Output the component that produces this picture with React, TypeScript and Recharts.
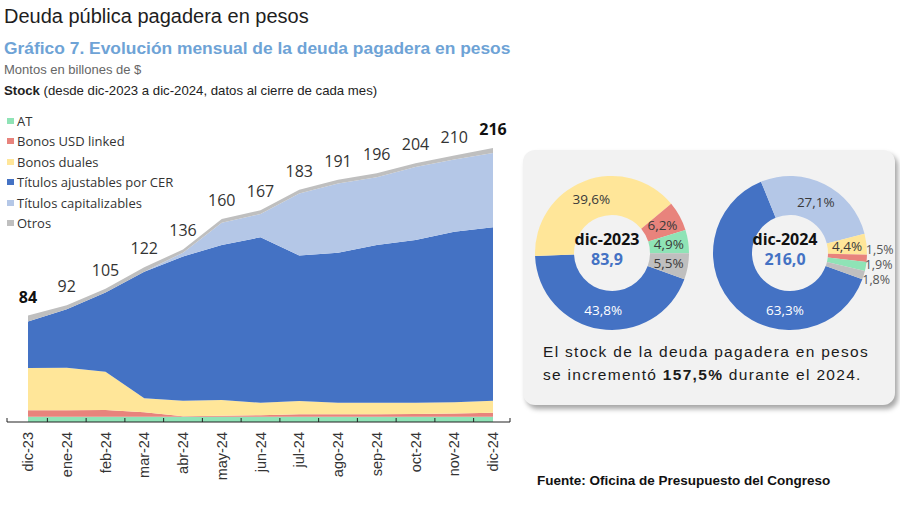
import React from 'react';
import { AreaChart, Area, XAxis, YAxis, LabelList, PieChart, Pie, Cell } from 'recharts';

const months = ['dic-23', 'ene-24', 'feb-24', 'mar-24', 'abr-24', 'may-24', 'jun-24', 'jul-24', 'ago-24', 'sep-24', 'oct-24', 'nov-24', 'dic-24'];
const totals = [84, 92, 105, 122, 136, 160, 167, 183, 191, 196, 204, 210, 216];
const atValues = [4.1, 4.1, 4.1, 4.1, 4.1, 4.1, 4.1, 4.1, 4.1, 4.1, 4.1, 4.1, 4.1];
const usdLinked = [5.2, 5.2, 5.4, 3.5, 0.5, 0.8, 1.2, 2.0, 2.0, 2.0, 2.3, 2.6, 3.2];
const duales = [33.2, 33.5, 30.2, 11.1, 12.2, 12.4, 9.9, 10.5, 9.1, 9.1, 8.8, 8.8, 9.5];
const cer = [36.7, 46.1, 62.3, 99.8, 113.7, 122.3, 130.4, 114.6, 118.3, 124.4, 128.3, 134.5, 136.7];
const capitalizables = [0, 0, 0, 0, 3.0, 17.5, 18.4, 49.0, 54.5, 53.4, 57.5, 57.0, 58.5];
const otros = [4.7, 3.1, 3.0, 3.5, 2.5, 2.9, 3.0, 2.8, 3.0, 3.0, 3.0, 3.0, 4.0];

const seriesNames = ['AT', 'Bonos USD linked', 'Bonos duales', 'Títulos ajustables por CER', 'Títulos capitalizables', 'Otros'];
const seriesKeys = ['at', 'usd', 'duales', 'cer', 'cap', 'otros'];
const seriesColors = ['#8fe3b6', '#e8837c', '#ffe699', '#4472c4', '#b4c7e7', '#bfbfbf'];

const pieNames = ['Títulos ajustables por CER', 'Títulos capitalizables', 'Bonos duales', 'Bonos USD linked', 'AT', 'Otros'];
const pieColors = ['#4472c4', '#b4c7e7', '#ffe699', '#e8837c', '#8fe3b6', '#bfbfbf'];
const pie2023 = [43.8, 0, 39.6, 6.2, 4.9, 5.5];
const pie2024 = [63.3, 27.1, 4.4, 1.5, 1.9, 1.8];
const pieTitles = ['dic-2023', 'dic-2024'];
const pieTotals = ['83,9', '216,0'];

const data = months.map((m, i) => ({
  month: m,
  at: atValues[i],
  usd: usdLinked[i],
  duales: duales[i],
  cer: cer[i],
  cap: capitalizables[i],
  otros: otros[i],
  total: totals[i],
}));

const pieData23 = pieNames.map((n, i) => ({ name: n, value: pie2023[i] }));
const pieData24 = pieNames.map((n, i) => ({ name: n, value: pie2024[i] }));

const CHART_W = 515;
const M_LEFT = 7;
const M_RIGHT = 5;
const PAD_L = 21;
const PAD_R = 17;
const STEP = (CHART_W - M_LEFT - M_RIGHT - PAD_L - PAD_R) / (months.length - 1);
const RAD = Math.PI / 180;
const SANS = '"Liberation Sans", Arial, sans-serif';
const GEO = '"Open Sans", "Noto Sans", sans-serif';

const PIE_LEFT = 520;
const PIE_TOP = 145;
const PIE_CX = [87, 265];
const PIE_CY = 103;

function MonthTick(props: any) {
  const { x, y, payload, index } = props;
  const last = months.length - 1;
  return (
    <g>
      {index < last && <line x1={x + STEP / 2} x2={x + STEP / 2} y1={y} y2={y - 4} stroke="#222" strokeWidth={1} />}
      {index === 0 && <line x1={x - PAD_L} x2={x - PAD_L} y1={y} y2={y - 4} stroke="#222" strokeWidth={1} />}
      {index === last && <line x1={x + PAD_R} x2={x + PAD_R} y1={y} y2={y - 4} stroke="#222" strokeWidth={1} />}
      <text
        transform={`translate(${x + 5},${y + 10}) rotate(-90)`}
        textAnchor="end"
        fontSize={14.5}
        fontFamily={SANS}
        fill="#333"
      >
        {payload.value}
      </text>
    </g>
  );
}

function TotalLabel(props: any) {
  const { x, y, index } = props;
  const edge = index === 0 || index === totals.length - 1;
  return (
    <text
      x={x}
      y={y - 13}
      textAnchor="middle"
      fontSize={16}
      fontFamily={GEO}
      fontWeight={edge ? 700 : 400}
      fill={edge ? '#111' : '#333'}
    >
      {totals[index]}
    </text>
  );
}

const fmtPct = (v: number) => v.toFixed(1).replace('.', ',') + '%';

const makePieLabel = (which: number) => (props: any) => {
  const { cx, cy, midAngle, innerRadius, outerRadius, value, index } = props;
  if (!value) return null;
  let r = (innerRadius + outerRadius) / 2;
  let angle = midAngle;
  let dy = 0;
  let size = 13.5;
  let fill = index === 0 ? '#ffffff' : '#3a3a3a';
  if (which === 1) {
    if (index === 0) angle = -95;
    if (value < 3) {
      r = outerRadius + 13;
      dy = index === 3 ? -10 : index === 4 ? -4 : 1;
      size = 12.5;
      fill = '#555';
    }
  }
  const x = cx + r * Math.cos(-angle * RAD);
  const y = cy + r * Math.sin(-angle * RAD) + dy;
  return (
    <text x={x} y={y} textAnchor="middle" dominantBaseline="central" fontSize={size} fontFamily={GEO} fill={fill}>
      {fmtPct(value)}
    </text>
  );
};

export default function App() {
  return (
    <div style={{ position: 'absolute', left: 0, top: 0, width: 900, height: 505, background: '#fff', overflow: 'hidden', fontFamily: SANS }}>
      <div style={{ position: 'absolute', left: 0, top: 0 }}>
        <AreaChart width={CHART_W} height={505} data={data} margin={{ top: 148, right: M_RIGHT, bottom: 23, left: M_LEFT }}>
          <XAxis
            dataKey="month"
            height={60}
            padding={{ left: PAD_L, right: PAD_R }}
            tickSize={0}
            tickMargin={0}
            interval={0}
            axisLine={{ stroke: '#222', strokeWidth: 1.2 }}
            tick={<MonthTick />}
          />
          <YAxis hide domain={[0, 216]} />
          {seriesKeys.map((k, i) => (
            <Area
              key={k}
              type="linear"
              dataKey={k}
              name={seriesNames[i]}
              stackId="s"
              stroke="none"
              fill={seriesColors[i]}
              fillOpacity={1}
              isAnimationActive={false}
              dot={false}
              activeDot={false}
            >
              {k === 'otros' && <LabelList dataKey="total" content={<TotalLabel />} />}
            </Area>
          ))}
        </AreaChart>
      </div>

      <div style={{ position: 'absolute', left: 4, top: 5.6, fontSize: 20, lineHeight: '20px', color: '#1e1e1e', whiteSpace: 'nowrap' }}>
        Deuda pública pagadera en pesos
      </div>
      <div style={{ position: 'absolute', left: 4, top: 40.2, fontSize: 17.4, lineHeight: '17.5px', fontWeight: 700, color: '#6ea3d6', whiteSpace: 'nowrap' }}>
        Gráfico 7. Evolución mensual de la deuda pagadera en pesos
      </div>
      <div style={{ position: 'absolute', left: 4, top: 63, fontSize: 13, lineHeight: '13px', color: '#666', whiteSpace: 'nowrap' }}>
        Montos en billones de $
      </div>
      <div style={{ position: 'absolute', left: 4, top: 84, fontSize: 13.2, lineHeight: '13px', color: '#222', whiteSpace: 'nowrap' }}>
        <b>Stock</b> (desde dic-2023 a dic-2024, datos al cierre de cada mes)
      </div>

      <div style={{ position: 'absolute', left: 7, top: 110.5, fontFamily: GEO, fontSize: 13, color: '#333' }}>
        {seriesNames.map((n, i) => (
          <div key={n} style={{ display: 'flex', alignItems: 'center', height: 20.5, whiteSpace: 'nowrap' }}>
            <span style={{ display: 'inline-block', width: 7, height: 6, background: seriesColors[i], marginRight: 3 }} />
            <span>{n}</span>
          </div>
        ))}
      </div>

      <div style={{ position: 'absolute', left: 523, top: 150, width: 372, height: 255, background: '#f2f2f2', borderRadius: 12, boxShadow: '3px 4px 5px rgba(0,0,0,0.35)' }} />

      <div style={{ position: 'absolute', left: PIE_LEFT, top: PIE_TOP }}>
        <PieChart width={380} height={200}>
          <Pie
            data={pieData23}
            dataKey="value"
            nameKey="name"
            cx={PIE_CX[0]}
            cy={PIE_CY}
            innerRadius={38}
            outerRadius={77}
            startAngle={-20}
            endAngle={-380}
            stroke="none"
            labelLine={false}
            label={makePieLabel(0)}
            isAnimationActive={false}
          >
            {pieData23.map((d, i) => (
              <Cell key={d.name} fill={pieColors[i]} />
            ))}
          </Pie>
          <Pie
            data={pieData24}
            dataKey="value"
            nameKey="name"
            cx={PIE_CX[1]}
            cy={PIE_CY}
            innerRadius={38}
            outerRadius={77}
            startAngle={-20}
            endAngle={-380}
            stroke="none"
            labelLine={false}
            label={makePieLabel(1)}
            isAnimationActive={false}
          >
            {pieData24.map((d, i) => (
              <Cell key={d.name} fill={pieColors[i]} />
            ))}
          </Pie>
        </PieChart>
      </div>

      {pieTitles.map((t, i) => (
        <React.Fragment key={t}>
          <div
            style={{
              position: 'absolute',
              left: PIE_LEFT + PIE_CX[i] - 50,
              top: PIE_TOP + PIE_CY - 17,
              width: 100,
              textAlign: 'center',
              fontFamily: GEO,
              fontWeight: 700,
              fontSize: 16,
              lineHeight: '16px',
              color: '#111',
            }}
          >
            {t}
          </div>
          <div
            style={{
              position: 'absolute',
              left: PIE_LEFT + PIE_CX[i] - 50,
              top: PIE_TOP + PIE_CY + 3,
              width: 100,
              textAlign: 'center',
              fontFamily: GEO,
              fontWeight: 700,
              fontSize: 16,
              lineHeight: '16px',
              color: '#4472c4',
            }}
          >
            {pieTotals[i]}
          </div>
        </React.Fragment>
      ))}

      <div style={{ position: 'absolute', left: 543, top: 339.5, fontSize: 15.5, lineHeight: '23px', letterSpacing: '1.3px', color: '#1a1a1a', whiteSpace: 'nowrap' }}>
        <div>El stock de la deuda pagadera en pesos</div>
        <div>
          se incrementó <b>157,5%</b> durante el 2024.
        </div>
      </div>

      <div style={{ position: 'absolute', left: 537, top: 473, fontSize: 13.5, lineHeight: '16px', fontWeight: 700, color: '#111', whiteSpace: 'nowrap' }}>
        Fuente: Oficina de Presupuesto del Congreso
      </div>
    </div>
  );
}
